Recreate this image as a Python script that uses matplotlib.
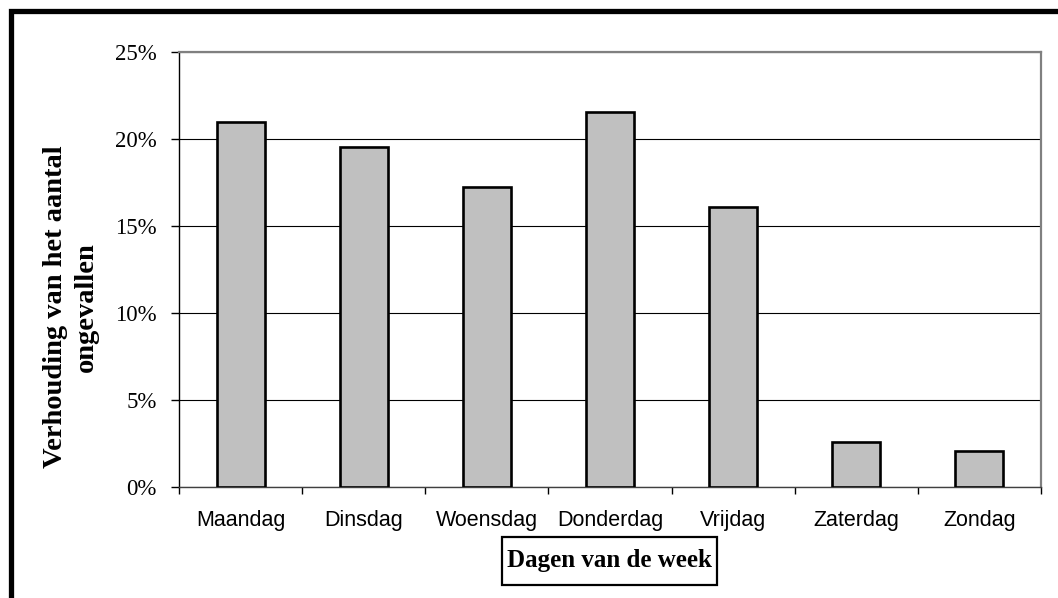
import matplotlib
matplotlib.use("Agg")
import matplotlib.pyplot as plt
from matplotlib.patches import Rectangle
from matplotlib.ticker import FuncFormatter
import numpy as np

days = ["Maandag", "Dinsdag", "Woensdag", "Donderdag", "Vrijdag", "Zaterdag", "Zondag"]
shares = [20.95, 19.55, 17.25, 21.55, 16.1, 2.55, 2.05]
y_ticks = [0, 5, 10, 15, 20, 25]

W, H = 1058, 598
fig = plt.figure(figsize=(W / 100, H / 100), dpi=100)
fig.patch.set_facecolor("white")

def fx(px):
    return px / W

def fy(py):
    return 1 - py / H

ax = fig.add_axes([fx(179), fy(486.7), fx(1041) - fx(179), fy(52) - fy(486.7)])
x = np.arange(len(days))
ax.bar(x, shares, width=0.39, color="#c0c0c0", edgecolor="black", linewidth=1.9, zorder=3)
ax.set_xlim(-0.5, len(days) - 0.5)
ax.set_ylim(0, 25)
ax.set_yticks(y_ticks)
ax.yaxis.set_major_formatter(FuncFormatter(lambda v, p: f"{int(v)}%"))
ax.yaxis.grid(True, color="black", linewidth=0.8, zorder=1)
ax.set_axisbelow(True)

ax.set_xticks(x)
ax.set_xticklabels(days, fontfamily="Liberation Sans", fontsize=15.5)
ax.set_xticks(np.arange(-0.5, len(days), 1.0), minor=True)
ax.tick_params(axis="x", which="major", length=0, pad=17)
ax.tick_params(axis="x", which="minor", length=5, width=1.0, color="black", direction="out")
ax.tick_params(axis="y", length=6, width=1.0, color="black", pad=10, direction="out")
for lab in ax.get_yticklabels():
    lab.set_fontfamily("Liberation Serif")
    lab.set_fontsize(16.5)

for s in ["top", "right"]:
    ax.spines[s].set_color("#808080")
    ax.spines[s].set_linewidth(1.6)
ax.spines["left"].set_color("black")
ax.spines["left"].set_linewidth(1.0)
ax.spines["bottom"].set_color("#404040")
ax.spines["bottom"].set_linewidth(1.0)

# y label
fig.text(fx(71), fy(307), "Verhouding van het aantal\nongevallen", rotation=90,
         ha="center", va="center", multialignment="center",
         fontfamily="Liberation Serif", fontweight="bold", fontsize=20.5, linespacing=1.32)

# x label with box
fig.patches.append(Rectangle((fx(502), fy(585)), fx(717) - fx(502), fy(537) - fy(585),
                             transform=fig.transFigure, fill=False, edgecolor="black",
                             linewidth=1.6, figure=fig))
fig.text(fx(609.5), fy(561), "Dagen van de week", ha="center", va="center",
         fontfamily="Liberation Serif", fontweight="bold", fontsize=18)

# outer frame
fig.patches.append(Rectangle((fx(10.5), fy(640)), fx(1100) - fx(10.5), fy(11) - fy(640),
                             transform=fig.transFigure, fill=False, edgecolor="black",
                             linewidth=3.8, figure=fig, clip_on=False))

fig.savefig("out.png", dpi=100, facecolor="white")
